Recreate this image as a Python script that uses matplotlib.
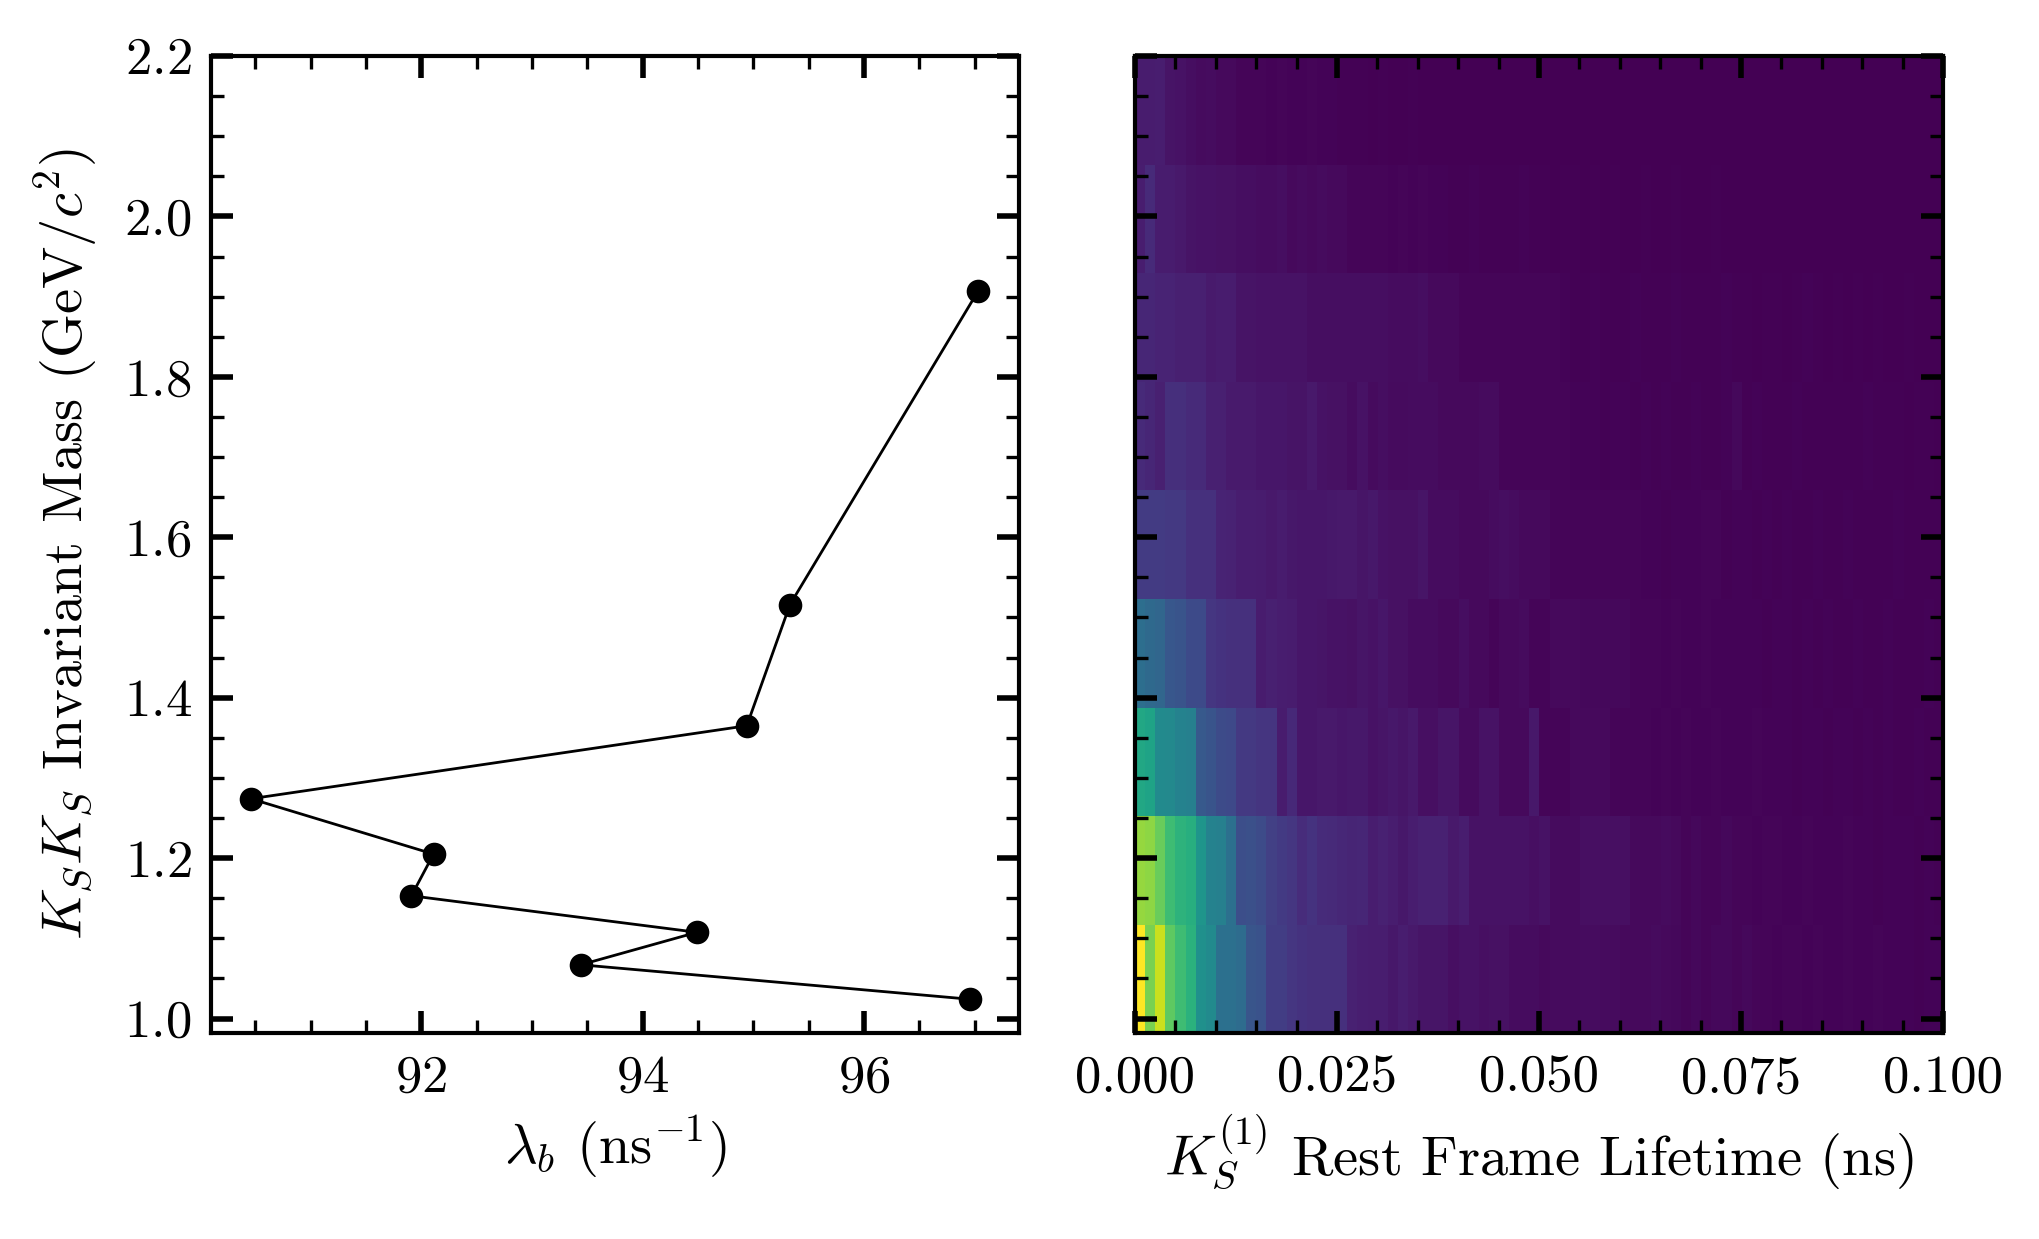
import numpy as np
import matplotlib
matplotlib.use("Agg")
import matplotlib.pyplot as plt
from matplotlib.ticker import MultipleLocator, FormatStrFormatter

# ===== dados =====
# painel esquerdo: lambda_b por faixa de massa
lam_b = [97.03, 95.33, 94.94, 90.46, 92.11, 91.91, 94.49, 93.44, 96.96]
massa = [1.907, 1.516, 1.365, 1.274, 1.205, 1.153, 1.1075, 1.067, 1.024]

# painel direito: histograma 2D normalizado (linhas de baixo para cima, 80 bins em t)
T_MIN, T_MAX = 0.0, 0.1
M_MIN, M_MAX = 0.982, 2.2

row1 = [1.00, 0.80, 0.92, 0.75, 0.69, 0.64, 0.50, 0.48, 0.37, 0.37,
        0.355, 0.265, 0.25, 0.18, 0.18, 0.16, 0.145, 0.137, 0.137, 0.137,
        0.137, 0.09, 0.085, 0.08, 0.08, 0.065, 0.08, 0.07, 0.055, 0.055,
        0.055, 0.04, 0.05, 0.05, 0.04, 0.045, 0.045, 0.035, 0.035, 0.035,
        0.025, 0.03, 0.03, 0.03, 0.035, 0.035, 0.03, 0.03, 0.025, 0.025,
        0.025, 0.03, 0.025, 0.02, 0.015, 0.02, 0.015, 0.02, 0.02, 0.015,
        0.02, 0.015, 0.015, 0.01, 0.015, 0.015, 0.01, 0.015, 0.01, 0.01,
        0.015, 0.01, 0.01, 0.015, 0.01, 0.01, 0.01, 0.005, 0.01, 0.01]
row2 = [0.84, 0.83, 0.77, 0.69, 0.645, 0.625, 0.52, 0.445, 0.435, 0.37,
        0.24, 0.245, 0.228, 0.19, 0.17, 0.157, 0.125, 0.145, 0.122, 0.118,
        0.11, 0.102, 0.106, 0.082, 0.09, 0.08, 0.065, 0.08, 0.09, 0.09,
        0.09, 0.07, 0.08, 0.05, 0.05, 0.05, 0.05, 0.05, 0.05, 0.04,
        0.05, 0.03, 0.03, 0.03, 0.04, 0.04, 0.04, 0.04, 0.04, 0.025,
        0.025, 0.025, 0.03, 0.025, 0.015, 0.02, 0.015, 0.015, 0.02, 0.015,
        0.015, 0.01, 0.015, 0.015, 0.01, 0.01, 0.015, 0.01, 0.01, 0.01,
        0.015, 0.01, 0.01, 0.005, 0.01, 0.01, 0.01, 0.005, 0.01, 0.005]
row3 = [0.60, 0.58, 0.48, 0.47, 0.445, 0.435, 0.28, 0.26, 0.23, 0.22,
        0.165, 0.165, 0.153, 0.153, 0.075, 0.114, 0.059, 0.059, 0.07, 0.067,
        0.059, 0.063, 0.063, 0.047, 0.055, 0.065, 0.055, 0.07, 0.04, 0.04,
        0.055, 0.055, 0.03, 0.03, 0.05, 0.05, 0.025, 0.025, 0.025, 0.065,
        0.015, 0.015, 0.015, 0.025, 0.025, 0.025, 0.025, 0.015, 0.015, 0.015,
        0.015, 0.01, 0.015, 0.01, 0.015, 0.01, 0.01, 0.015, 0.01, 0.01,
        0.01, 0.015, 0.01, 0.01, 0.01, 0.005, 0.01, 0.01, 0.005, 0.01,
        0.01, 0.005, 0.01, 0.005, 0.01, 0.005, 0.005, 0.01, 0.005, 0.005]
row4 = [0.36, 0.34, 0.33, 0.27, 0.26, 0.225, 0.225, 0.157, 0.145, 0.137,
        0.137, 0.137, 0.078, 0.086, 0.082, 0.075, 0.059, 0.059, 0.055, 0.047,
        0.047, 0.043, 0.055, 0.047, 0.06, 0.043, 0.043, 0.035, 0.035, 0.035,
        0.024, 0.024, 0.039, 0.027, 0.027, 0.012, 0.024, 0.024, 0.031, 0.012,
        0.015, 0.025, 0.025, 0.025, 0.02, 0.02, 0.02, 0.02, 0.02, 0.015,
        0.015, 0.015, 0.01, 0.015, 0.01, 0.01, 0.015, 0.01, 0.01, 0.01,
        0.01, 0.01, 0.005, 0.01, 0.01, 0.005, 0.01, 0.005, 0.01, 0.005,
        0.005, 0.01, 0.005, 0.005, 0.01, 0.005, 0.005, 0.005, 0.01, 0.005]
row5 = [0.175, 0.175, 0.175, 0.165, 0.165, 0.14, 0.14, 0.14, 0.10, 0.095,
        0.082, 0.082, 0.075, 0.067, 0.078, 0.063, 0.059, 0.059, 0.059, 0.063,
        0.067, 0.067, 0.055, 0.063, 0.047, 0.043, 0.043, 0.043, 0.055, 0.035,
        0.035, 0.035, 0.027, 0.027, 0.027, 0.035, 0.039, 0.035, 0.024, 0.024,
        0.024, 0.012, 0.015, 0.012, 0.012, 0.015, 0.012, 0.012, 0.012, 0.015,
        0.01, 0.01, 0.005, 0.01, 0.01, 0.01, 0.015, 0.015, 0.005, 0.01,
        0.01, 0.005, 0.01, 0.005, 0.01, 0.005, 0.005, 0.01, 0.005, 0.005,
        0.01, 0.005, 0.005, 0.005, 0.005, 0.01, 0.005, 0.005, 0.005, 0.005]
row6 = [0.12, 0.106, 0.086, 0.135, 0.135, 0.118, 0.118, 0.086, 0.086, 0.071,
        0.071, 0.071, 0.059, 0.059, 0.059, 0.051, 0.051, 0.067, 0.047, 0.043,
        0.043, 0.035, 0.047, 0.031, 0.039, 0.031, 0.031, 0.035, 0.035, 0.035,
        0.027, 0.024, 0.024, 0.024, 0.031, 0.031, 0.012, 0.012, 0.012, 0.012,
        0.012, 0.012, 0.015, 0.01, 0.01, 0.01, 0.005, 0.01, 0.01, 0.005,
        0.01, 0.005, 0.01, 0.005, 0.005, 0.01, 0.005, 0.005, 0.01, 0.02,
        0.005, 0.01, 0.005, 0.005, 0.005, 0.01, 0.005, 0.005, 0.005, 0.005,
        0.005, 0.005, 0.01, 0.005, 0.005, 0.005, 0.0, 0.005, 0.005, 0.0]
row7 = [0.106, 0.106, 0.098, 0.10, 0.086, 0.086, 0.086, 0.071, 0.078, 0.078,
        0.051, 0.051, 0.047, 0.047, 0.047, 0.047, 0.047, 0.039, 0.039, 0.039,
        0.039, 0.039, 0.039, 0.039, 0.039, 0.035, 0.035, 0.035, 0.039, 0.027,
        0.027, 0.027, 0.012, 0.012, 0.012, 0.012, 0.012, 0.012, 0.012, 0.012,
        0.012, 0.012, 0.01, 0.005, 0.005, 0.01, 0.005, 0.005, 0.005, 0.01,
        0.005, 0.005, 0.005, 0.01, 0.005, 0.005, 0.005, 0.005, 0.01, 0.005,
        0.005, 0.0, 0.005, 0.005, 0.0, 0.005, 0.01, 0.005, 0.0, 0.005,
        0.0, 0.005, 0.0, 0.005, 0.0, 0.0, 0.005, 0.0, 0.0, 0.0]
row8 = [0.082, 0.118, 0.078, 0.075, 0.067, 0.051, 0.047, 0.047, 0.043, 0.043,
        0.039, 0.039, 0.035, 0.035, 0.039, 0.027, 0.031, 0.027, 0.031, 0.027,
        0.027, 0.012, 0.012, 0.012, 0.012, 0.01, 0.012, 0.01, 0.012, 0.01,
        0.01, 0.005, 0.005, 0.01, 0.005, 0.005, 0.005, 0.005, 0.01, 0.005,
        0.005, 0.0, 0.005, 0.005, 0.0, 0.005, 0.0, 0.005, 0.0, 0.0,
        0.005, 0.0, 0.0, 0.005, 0.0, 0.0, 0.0, 0.005, 0.0, 0.0,
        0.0, 0.0, 0.0, 0.0, 0.0, 0.0, 0.0, 0.0, 0.0, 0.0,
        0.0, 0.0, 0.0, 0.0, 0.0, 0.0, 0.0, 0.0, 0.0, 0.0]
row9 = [0.075, 0.075, 0.082, 0.051, 0.047, 0.039, 0.031, 0.035, 0.027, 0.024,
        0.012, 0.012, 0.012, 0.01, 0.012, 0.01, 0.01, 0.012, 0.01, 0.01,
        0.005, 0.005, 0.005, 0.0, 0.005, 0.0, 0.0, 0.005, 0.0, 0.0,
        0.0, 0.0, 0.0, 0.0, 0.0, 0.0, 0.0, 0.0, 0.0, 0.0,
        0.0, 0.0, 0.0, 0.0, 0.0, 0.0, 0.0, 0.0, 0.0, 0.0,
        0.0, 0.0, 0.0, 0.0, 0.0, 0.0, 0.0, 0.0, 0.0, 0.0,
        0.0, 0.0, 0.0, 0.0, 0.0, 0.0, 0.0, 0.0, 0.0, 0.0,
        0.0, 0.0, 0.0, 0.0, 0.0, 0.0, 0.0, 0.0, 0.0, 0.0]
# =================================

plt.rcParams.update({
    "font.family": "serif",
    "font.serif": ["cmr10"],
    "mathtext.fontset": "cm",
    "axes.formatter.use_mathtext": True,
    "font.size": 19,
    "axes.labelsize": 20.3,
    "axes.linewidth": 1.5,
    "xtick.direction": "in", "ytick.direction": "in",
    "xtick.top": True, "ytick.right": True,
    "xtick.major.size": 7.8, "ytick.major.size": 7.8,
    "xtick.minor.size": 4.8, "ytick.minor.size": 4.8,
    "xtick.major.width": 2.0, "ytick.major.width": 2.0,
    "xtick.minor.width": 1.2, "ytick.minor.width": 1.2,
    "xtick.major.pad": 8, "ytick.major.pad": 7,
})

hist = np.array([row1, row2, row3, row4, row5, row6, row7, row8, row9])

fig = plt.figure(figsize=(10.195, 6.195), dpi=200)
ax1 = fig.add_axes([0.1035, 0.1663, 0.3963, 0.7885])
ax2 = fig.add_axes([0.5566, 0.1663, 0.3963, 0.7885], sharey=ax1)

ax1.plot(lam_b, massa, color="black", lw=1.0, marker="o", ms=7.5)
ax1.set_xlim(90.1, 97.4)
ax1.set_ylim(M_MIN, M_MAX)
ax1.xaxis.set_major_locator(MultipleLocator(2))
ax1.xaxis.set_minor_locator(MultipleLocator(0.5))
ax1.yaxis.set_major_locator(MultipleLocator(0.2))
ax1.yaxis.set_minor_locator(MultipleLocator(0.05))
ax1.set_xlabel(r"$\lambda_b$ (ns$^{-1}$)")
ax1.set_ylabel(r"$K_SK_S$ Invariant Mass (GeV/$c^2$)", labelpad=8.5)

ax2.imshow(hist, origin="lower", aspect="auto", cmap="viridis",
           vmin=0, vmax=1, interpolation="nearest",
           extent=[T_MIN, T_MAX, M_MIN, M_MAX])
ax2.set_xlim(T_MIN, T_MAX)
ax2.xaxis.set_major_locator(MultipleLocator(0.025))
ax2.xaxis.set_minor_locator(MultipleLocator(0.005))
ax2.xaxis.set_major_formatter(FormatStrFormatter("%.3f"))
ax2.tick_params(axis="y", labelleft=False)
ax2.set_xlabel(r"$K_S^{(1)}$ Rest Frame Lifetime (ns)")

fig.savefig("out.png", dpi=200)
